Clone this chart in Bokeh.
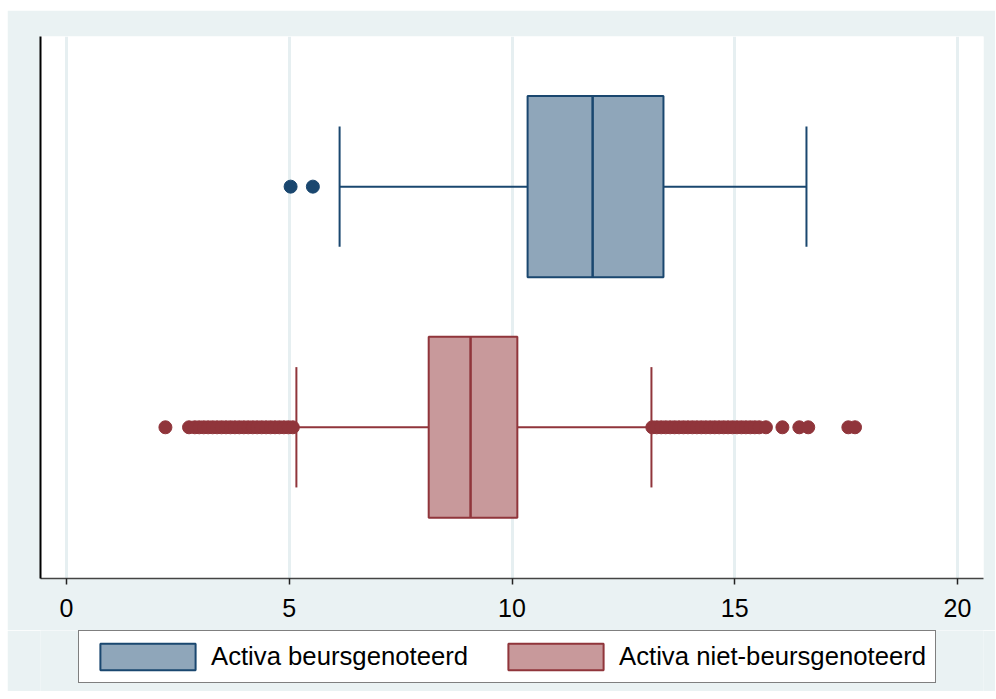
from bokeh.plotting import figure
from bokeh.models import Range1d, Legend, LegendItem, FixedTicker
from bokeh.layouts import column
from bokeh.embed import file_html
from bokeh.resources import INLINE

# ---- data ----
groups = ["Activa beursgenoteerd", "Activa niet-beursgenoteerd"]
q1 = [10.35, 8.13]
median = [11.81, 9.07]
q3 = [13.40, 10.12]
lower_whisker = [6.13, 5.16]
upper_whisker = [16.61, 13.13]
outliers_beurs = [5.03, 5.53]
outliers_niet = [2.22, 2.75, 2.88, 2.98, 3.08, 3.18, 3.28, 3.38, 3.48, 3.58, 3.68,
                 3.78, 3.88, 3.98, 4.08, 4.18, 4.28, 4.38, 4.48, 4.58, 4.68, 4.78,
                 4.88, 4.98, 5.08,
                 13.15, 13.25, 13.35, 13.45, 13.55, 13.65, 13.75, 13.85, 13.95,
                 14.05, 14.15, 14.25, 14.35, 14.45, 14.55, 14.65, 14.75, 14.85,
                 14.95, 15.05, 15.15, 15.25, 15.35, 15.45, 15.55, 15.70,
                 16.07, 16.45, 16.65, 17.55, 17.70]
x_ticks = [0, 5, 10, 15, 20]

# ---- layout/style ----
positions = [0.723, 0.279]
box_half = 0.167
cap_half = 0.111
edge_colors = ["#1a476f", "#90353b"]
fill_colors = ["#8fa6ba", "#c8999b"]
BG = "#eaf2f3"
FONT = "Liberation Sans"

p = figure(frame_width=943, frame_height=542, output_backend="svg", toolbar_location=None,
           x_range=Range1d(-0.584, 20.584), y_range=Range1d(0, 1),
           min_border_left=33, min_border_right=12, min_border_top=26,
           min_border_bottom=52)
p.border_fill_color = BG
p.background_fill_color = "white"
p.outline_line_color = None

p.xgrid.ticker = FixedTicker(ticks=x_ticks)
p.xaxis.ticker = FixedTicker(ticks=x_ticks)
p.xgrid.grid_line_color = "#e6eff1"
p.xgrid.grid_line_width = 3
p.ygrid.grid_line_color = None

p.xaxis.axis_line_color = "#444444"
p.xaxis.axis_line_width = 1.5
p.xaxis.major_tick_line_color = "#222222"
p.xaxis.major_tick_line_width = 1.5
p.xaxis.major_tick_out = 6
p.xaxis.major_tick_in = 0
p.xaxis.minor_tick_line_color = None
p.xaxis.major_label_text_font = FONT
p.xaxis.major_label_text_font_size = "25px"
p.xaxis.major_label_text_color = "black"
p.xaxis.major_label_standoff = 14

p.yaxis.ticker = FixedTicker(ticks=[])
p.yaxis.axis_line_color = "black"
p.yaxis.axis_line_width = 2
p.yaxis.major_tick_line_color = None
p.yaxis.minor_tick_line_color = None
p.yaxis.major_label_text_font_size = "0px"

for i, g in enumerate(groups):
    y = positions[i]
    ec, fc = edge_colors[i], fill_colors[i]
    # whiskers
    p.segment(x0=[lower_whisker[i], q3[i]], y0=[y, y], x1=[q1[i], upper_whisker[i]], y1=[y, y],
              line_color=ec, line_width=2)
    # caps
    p.segment(x0=[lower_whisker[i], upper_whisker[i]], y0=[y - cap_half] * 2,
              x1=[lower_whisker[i], upper_whisker[i]], y1=[y + cap_half] * 2,
              line_color=ec, line_width=2)
    # box
    p.quad(left=[q1[i]], right=[q3[i]], bottom=[y - box_half], top=[y + box_half],
           fill_color=fc, line_color=ec, line_width=2)
    # median
    p.segment(x0=[median[i]], y0=[y - box_half], x1=[median[i]], y1=[y + box_half],
              line_color=ec, line_width=2.5)

p.scatter(x=outliers_beurs, y=[positions[0]] * len(outliers_beurs), size=13,
          fill_color=edge_colors[0], line_color=edge_colors[0])
p.scatter(x=outliers_niet, y=[positions[1]] * len(outliers_niet), size=13,
          fill_color=edge_colors[1], line_color=edge_colors[1])

# ---- legend strip (separate figure below the chart) ----
lf = figure(width=988, height=61, output_backend="svg", toolbar_location=None,
            x_axis_type=None, y_axis_type=None,
            min_border_left=0, min_border_right=0, min_border_top=0, min_border_bottom=0,
            x_range=Range1d(-0.584, 20.584), y_range=Range1d(0, 1))
lf.background_fill_color = BG
lf.border_fill_color = BG
lf.outline_line_color = None
lf.xgrid.visible = False
lf.ygrid.visible = False

items = []
for i, g in enumerate(groups):
    y = positions[i]
    r = lf.quad(left=[q1[i]], right=[q3[i]], bottom=[y - box_half], top=[y + box_half],
                fill_color=fill_colors[i], line_color=edge_colors[i], line_width=2)
    r.visible = False
    items.append(LegendItem(label=g, renderers=[r]))

legend = Legend(items=items, orientation="horizontal", location=(38, 8),
                label_text_font=FONT, label_text_font_size="25.7px",
                label_text_color="black",
                glyph_width=119, glyph_height=33, label_standoff=4, spacing=28,
                padding=9, margin=0,
                border_line_color="black", border_line_width=1,
                background_fill_color="white", background_fill_alpha=1)
lf.add_layout(legend, "center")

layout = column(p, lf, spacing=0, margin=(10, 0, 0, 7))
open("out.html", "w").write(file_html(layout, INLINE))
